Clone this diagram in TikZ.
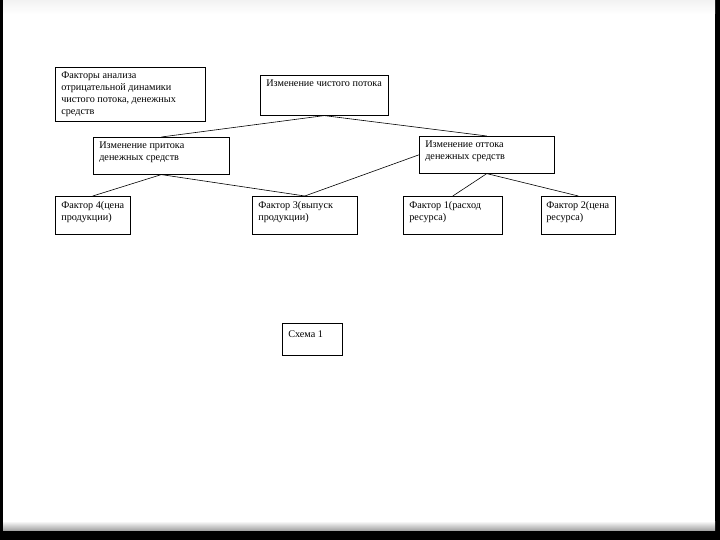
\documentclass[tikz,border=0pt]{standalone}
\usepackage{fontspec}
\setmainfont{Liberation Serif}
\usetikzlibrary{positioning}
\newcommand{\boxtext}[3]{\parbox[c][#2][t]{#1}{\raggedright\vspace*{5pt}#3}}

\begin{document}
\begin{tikzpicture}[x=1pt, y=-1pt, font=\fontsize{10.2}{12}\selectfont,
    blok/.style={draw=black, line width=0.6pt, rectangle, anchor=north west,
      inner xsep=6pt, inner ysep=0pt},
    link/.style={draw=black, line width=0.6pt}]
    \fill[black] (0,0) rectangle (720,540);
    \fill[white] (3,0) rectangle (715,530);
    \shade[top color=white, bottom color=gray!70] (3,521) rectangle (715,530);
    \shade[top color=gray!10, bottom color=white] (3,0) rectangle (715,14);

    \node[blok] (faktory) at (55,67)
      {\boxtext{138pt}{54pt}{Факторы анализа\\отрицательной динамики\\чистого потока, денежных\\средств}};
    \node[blok] (chist) at (260,75)
      {\boxtext{116pt}{40pt}{Изменение чистого потока}};
    \node[blok] (pritok) at (93,137)
      {\boxtext{124pt}{37pt}{Изменение притока\\денежных средств}};
    \node[blok] (ottok) at (419,136)
      {\boxtext{123pt}{37pt}{Изменение оттока\\денежных средств}};
    \node[blok] (f4) at (55,196)
      {\boxtext{63pt}{38pt}{Фактор 4(цена\\продукции)}};
    \node[blok] (f3) at (252,196)
      {\boxtext{93pt}{38pt}{Фактор 3(выпуск\\продукции)}};
    \node[blok] (f1) at (403,196)
      {\boxtext{87pt}{38pt}{Фактор 1(расход\\ресурса)}};
    \node[blok, inner xsep=5pt] (f2) at (541,196)
      {\boxtext{64pt}{38pt}{Фактор 2(цена\\ресурса)}};
    \node[blok] (shema) at (282,323)
      {\boxtext{48pt}{32pt}{\vspace*{2pt}Схема 1}};

    \draw[link] (chist.south) -- (pritok.north);
    \draw[link] (chist.south) -- (ottok.north);
    \draw[link] (pritok.south) -- (f4.north);
    \draw[link] (pritok.south) -- (f3.north);
    \draw[link] (f3.north) -- (ottok.west);
    \draw[link] (ottok.south) -- (f1.north);
    \draw[link] (ottok.south) -- (f2.north);
  \end{tikzpicture}
\end{document}
